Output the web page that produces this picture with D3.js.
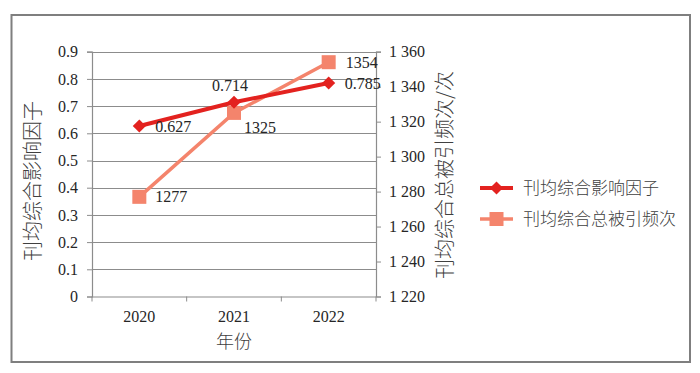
<!DOCTYPE html>
<html><head><meta charset="utf-8">
<script src="https://cdn.jsdelivr.net/npm/d3@7/dist/d3.min.js"></script>
<style>
html,body{margin:0;padding:0;background:#fff;}
svg{display:block;}
text.num{font-family:"Liberation Serif","Tinos","Times New Roman","Nimbus Roman","DejaVu Serif",serif !important;font-size:16px;fill:#262626;}
text.cjk{font-family:"Noto Sans CJK SC","Noto Sans CJK JP",sans-serif;font-weight:300;fill:#404040;}
</style></head>
<body>
<svg id="c" width="700" height="373"></svg>
<script>
// ---- data ----
const years = ["2020", "2021", "2022"];
const impactFactor = [0.627, 0.714, 0.785];
const totalCitations = [1277, 1325, 1354];
const leftTicks = [0, 0.1, 0.2, 0.3, 0.4, 0.5, 0.6, 0.7, 0.8, 0.9];
const rightTicks = [1220, 1240, 1260, 1280, 1300, 1320, 1340, 1360];
const seriesNames = ["刊均综合影响因子", "刊均综合总被引频次"];
const leftTitle = "刊均综合影响因子";
const rightTitle = "刊均综合总被引频次/次";
const xTitle = "年份";

// ---- layout / style ----
const W = 700, H = 373;
const plot = {left: 92, right: 376, top: 51.7, bottom: 296.5};
const RED = "#e3221f", SALMON = "#f4846c", GRID = "#8c8c8c";
const SERIF = '"Liberation Serif", Tinos, "Times New Roman", "Nimbus Roman", "DejaVu Serif", serif';
// label offsets per point (style only)
const redLabelOff = [{dx: 16, dy: 0, a: "start"}, {dx: -4, dy: -17, a: "middle"}, {dx: 16, dy: 0, a: "start"}];
const salLabelOff = [{dx: 16, dy: 0, a: "start"}, {dx: 10, dy: 14, a: "start"}, {dx: 17, dy: 0, a: "start"}];

const svg = d3.select("#c");
svg.append("rect").attr("width", W).attr("height", H).attr("fill", "#fff");
svg.append("rect").attr("x", 11.5).attr("y", 15).attr("width", 678.5).attr("height", 347)
  .attr("fill", "none").attr("stroke", "#7f7f7f").attr("stroke-width", 2);

const x = d3.scaleBand().domain(years).range([plot.left, plot.right]);
const yL = d3.scaleLinear().domain([0, 0.9]).range([plot.bottom, plot.top]);
const yR = d3.scaleLinear().domain([1220, 1360]).range([plot.bottom, plot.top]);
const loc = d3.formatLocale({decimal: ".", thousands: " ", grouping: [3], currency: ["", ""]});
const fmtR = loc.format(",d");

// gridlines
svg.append("g").selectAll("line").data(leftTicks.slice(1)).join("line")
  .attr("x1", plot.left).attr("x2", plot.right)
  .attr("y1", d => Math.round(yL(d)) + 0.5).attr("y2", d => Math.round(yL(d)) + 0.5)
  .attr("stroke", GRID).attr("stroke-width", 1);

// left axis
const gL = svg.append("g").attr("transform", `translate(${plot.left},0)`)
  .call(d3.axisLeft(yL).tickValues(leftTicks).tickSize(5).tickPadding(9).tickFormat(d => d === 0 ? "0" : d3.format(".1f")(d)));
// right axis
const gR = svg.append("g").attr("transform", `translate(${plot.right},0)`)
  .call(d3.axisRight(yR).tickValues(rightTicks).tickSize(5).tickPadding(8).tickFormat(fmtR));
// bottom axis
const gB = svg.append("g").attr("transform", `translate(0,${plot.bottom})`)
  .call(d3.axisBottom(x).tickSize(0).tickPadding(14));
// band boundary ticks on bottom axis
svg.append("g").selectAll("line").data(years).join("line")
  .attr("x1", d => x(d) + x.bandwidth()).attr("x2", d => x(d) + x.bandwidth())
  .attr("y1", plot.bottom).attr("y2", plot.bottom + 5)
  .attr("stroke", GRID).attr("stroke-width", 1);
svg.append("line").attr("x1", plot.left).attr("x2", plot.left).attr("y1", plot.bottom).attr("y2", plot.bottom + 5)
  .attr("stroke", GRID);

[gL, gR, gB].forEach(g => {
  g.attr("font-family", SERIF).attr("font-size", 16);
  g.select(".domain").attr("stroke", GRID).attr("stroke-width", 1.2);
  g.selectAll(".tick line").attr("stroke", GRID);
  g.selectAll(".tick text").attr("class", "num").attr("fill", "#262626")
    .style("font-family", SERIF).style("font-size", "16px");
});
gB.select(".domain").attr("d", `M${plot.left},0.5H${plot.right}`);

// axis titles
svg.append("text").attr("class", "cjk").attr("font-size", 20)
  .attr("transform", `translate(40,${(97 + 265) / 2}) rotate(-90)`)
  .attr("text-anchor", "middle").text(leftTitle);
svg.append("text").attr("class", "cjk").attr("font-size", 20)
  .attr("transform", `translate(452,${(73 + 277) / 2}) rotate(-90)`)
  .attr("text-anchor", "middle").text(rightTitle);
svg.append("text").attr("class", "cjk").attr("font-size", 18)
  .attr("x", x("2021") + x.bandwidth() / 2).attr("y", 348).attr("text-anchor", "middle").text(xTitle);

const cx = d => x(d) + x.bandwidth() / 2;

// salmon series (behind)
const salPts = years.map((y, i) => [cx(y), yR(totalCitations[i])]);
svg.append("path").attr("d", d3.line()(salPts)).attr("fill", "none")
  .attr("stroke", SALMON).attr("stroke-width", 3.5);
svg.append("g").selectAll("rect").data(salPts).join("rect")
  .attr("x", d => d[0] - 7).attr("y", d => d[1] - 7).attr("width", 14).attr("height", 14).attr("fill", SALMON);

// red series
const redPts = years.map((y, i) => [cx(y), yL(impactFactor[i])]);
svg.append("path").attr("d", d3.line()(redPts)).attr("fill", "none")
  .attr("stroke", RED).attr("stroke-width", 4);
const diamond = d3.symbol().type(d3.symbolDiamond2).size(110);
svg.append("g").selectAll("path").data(redPts).join("path")
  .attr("transform", d => `translate(${d[0]},${d[1]})`).attr("d", diamond).attr("fill", RED);

// data labels
const lab = svg.append("g").attr("font-family", SERIF).attr("font-size", 16);
lab.append("g").selectAll("text").data(impactFactor).join("text").attr("class", "num")
  .style("font-family", SERIF)
  .attr("x", (d, i) => redPts[i][0] + redLabelOff[i].dx)
  .attr("y", (d, i) => redPts[i][1] + redLabelOff[i].dy)
  .attr("dy", "0.35em").attr("text-anchor", (d, i) => redLabelOff[i].a)
  .text(d => d3.format(".3f")(d));
lab.append("g").selectAll("text").data(totalCitations).join("text").attr("class", "num")
  .style("font-family", SERIF)
  .attr("x", (d, i) => salPts[i][0] + salLabelOff[i].dx)
  .attr("y", (d, i) => salPts[i][1] + salLabelOff[i].dy)
  .attr("dy", "0.35em").attr("text-anchor", (d, i) => salLabelOff[i].a)
  .text(d => d);

// legend
const legY = [188, 219];
const leg = svg.append("g");
leg.append("line").attr("x1", 480).attr("x2", 513).attr("y1", legY[0]).attr("y2", legY[0]).attr("stroke", RED).attr("stroke-width", 4);
leg.append("path").attr("transform", `translate(496.5,${legY[0]})`).attr("d", diamond).attr("fill", RED);
leg.append("line").attr("x1", 480).attr("x2", 513).attr("y1", legY[1]).attr("y2", legY[1]).attr("stroke", SALMON).attr("stroke-width", 3.5);
leg.append("rect").attr("x", 496.5 - 7).attr("y", legY[1] - 7).attr("width", 14).attr("height", 14).attr("fill", SALMON);
leg.selectAll("text").data(seriesNames).join("text").attr("class", "cjk").attr("font-size", 17)
  .attr("x", 523).attr("y", (d, i) => legY[i]).attr("dy", "0.35em").text(d => d);
</script>
</body></html>
